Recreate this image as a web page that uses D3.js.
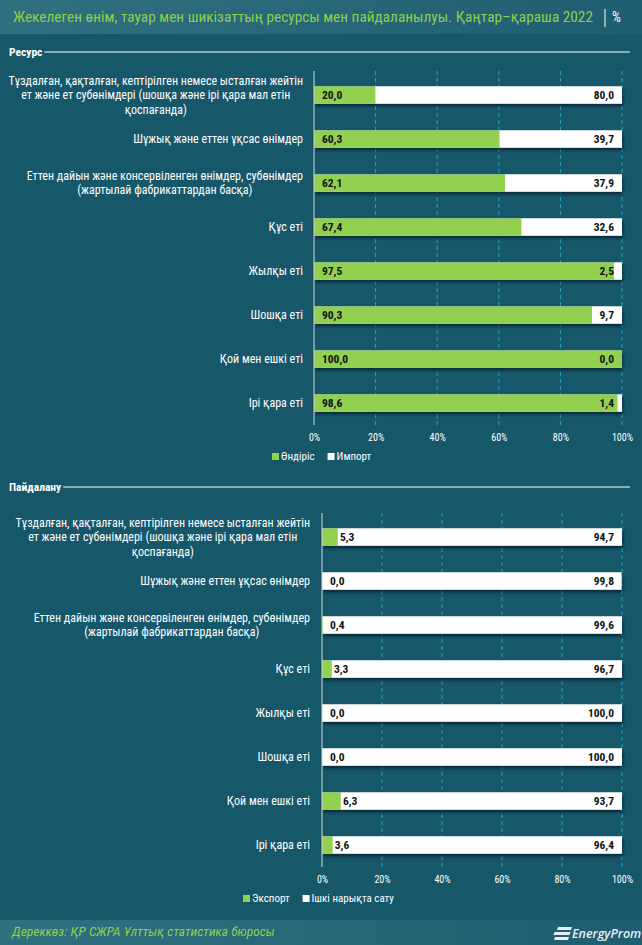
<!DOCTYPE html>
<html><head><meta charset="utf-8">
<script src="https://cdn.jsdelivr.net/npm/d3@7/dist/d3.min.js"></script>
<style>
html,body{margin:0;padding:0;background:#16576a;}
svg{display:block;}
</style></head>
<body>
<svg id="chart" width="642" height="945"></svg>
<script>
const categories = [
  "Тұздалған, қақталған, кептірілген немесе ысталған жейтін\nет және ет субөнімдері (шошқа және ірі қара мал етін\nқоспағанда)",
  "Шұжық және еттен ұқсас өнімдер",
  "Еттен дайын және консервіленген өнімдер, субөнімдер\n(жартылай фабрикаттардан басқа)",
  "Құс еті",
  "Жылқы еті",
  "Шошқа еті",
  "Қой мен ешкі еті",
  "Ірі қара еті"
];
const resourceProduction = [20.0, 60.3, 62.1, 67.4, 97.5, 90.3, 100.0, 98.6];
const resourceImport     = [80.0, 39.7, 37.9, 32.6, 2.5, 9.7, 0.0, 1.4];
const useExport          = [5.3, 0.0, 0.4, 3.3, 0.0, 0.0, 6.3, 3.6];
const useDomestic        = [94.7, 99.8, 99.6, 96.7, 100.0, 100.0, 93.7, 96.4];
const tickValues = [0, 20, 40, 60, 80, 100];
const tickLabels = ["0%", "20%", "40%", "60%", "80%", "100%"];
const titleText = "Жекелеген өнім, тауар мен шикізаттың ресурсы мен пайдаланылуы. Қаңтар–қараша 2022";
const sourceText = "Дереккөз: ҚР СЖРА Ұлттық статистика бюросы";

const GREEN = "#92d050";
const FONT = "'Liberation Sans Narrow','Roboto Condensed','Open Sans',sans-serif";
const svg = d3.select("#chart");

const defs = svg.append("defs");
const hg = defs.append("linearGradient").attr("id","hdr").attr("x1","0").attr("x2","1");
hg.append("stop").attr("offset","0").attr("stop-color","#30707f");
hg.append("stop").attr("offset","1").attr("stop-color","#1f5e70");
const fl = defs.append("filter").attr("id","shadow").attr("x","-5%").attr("y","-30%").attr("width","110%").attr("height","180%");
fl.append("feDropShadow").attr("dx",1).attr("dy",2.5).attr("stdDeviation",1.5).attr("flood-color","#061f27").attr("flood-opacity",0.8);

svg.append("rect").attr("width",642).attr("height",945).attr("fill","#16576a");
svg.append("rect").attr("width",642).attr("height",34).attr("fill","url(#hdr)");
svg.append("rect").attr("y",920).attr("width",642).attr("height",25).attr("fill","url(#hdr)");

// title
const tt = svg.append("text").attr("x",13).attr("y",22).attr("font-family",FONT).attr("font-size",14).attr("fill","#8fcf4c");
tt.append("tspan").text(titleText).attr("textLength",580).attr("lengthAdjust","spacingAndGlyphs");
svg.append("line").attr("x1",605).attr("x2",605).attr("y1",9).attr("y2",27).attr("stroke","#ffffff").attr("stroke-width",1);
svg.append("text").attr("x",612).attr("y",22).attr("font-family",FONT).attr("font-size",14).attr("fill","#ffffff").text("%");

// footer
svg.append("text").attr("x",12).attr("y",936).attr("font-family",FONT).attr("font-size",13.5).attr("font-style","italic").attr("fill","#8fcf4c").text(sourceText);
// logo
const lg = svg.append("g").attr("transform","translate(555,924)");
[0,5,10].forEach((dy,i)=>{
  lg.append("path").attr("d",`M${3-dy*0.3+ (i==1?-2:0)},${dy+3} L${17-dy*0.3},${dy+3} L${16-dy*0.3},${dy+6} L${2-dy*0.3+(i==1?-2:0)},${dy+6} Z`).attr("fill","#e8eef0");
});
lg.append("text").attr("x",17).attr("y",14).attr("font-family","'Open Sans',sans-serif").attr("font-size",12.5).attr("font-style","italic").attr("font-weight",600).attr("fill","#e8eef0").text("EnergyProm");

function sectionTitle(label, y){
  const t = svg.append("text").attr("x",9).attr("y",y+4).attr("font-family",FONT).attr("font-size",11.5).attr("font-weight","bold").attr("fill","#ffffff").text(label);
  const w = t.node().getComputedTextLength();
  svg.append("line").attr("x1",9+w+2).attr("x2",630).attr("y1",y).attr("y2",y).attr("stroke","#ffffff").attr("stroke-width",1);
}

function drawPanel(opts){
  const {x0, x1, yTop, yBot, a, b, labelRight, legendX, legendNames} = opts;
  const x = d3.scaleLinear().domain([0,100]).range([x0,x1]);
  const y = d3.scaleBand().domain(categories).range([yTop,yBot]);
  const bh = 17;
  const g = svg.append("g");
  // grid
  g.selectAll(".grid").data(tickValues.slice(1)).join("line")
    .attr("x1",d=>x(d)).attr("x2",d=>x(d)).attr("y1",yTop-2).attr("y2",yBot)
    .attr("stroke","#2f9fc0").attr("stroke-width",1).attr("stroke-dasharray","4,3");
  // bars
  const rows = categories.map((c,i)=>({c, a:a[i], b:b[i]}));
  const rg = g.selectAll(".row").data(rows).join("g").attr("transform",d=>`translate(0,${y(d.c)+(y.bandwidth()-bh)/2})`);
  rg.append("rect").attr("x",x(0)).attr("width",d=>x(d.a+d.b)-x(0)).attr("height",bh).attr("fill","#ffffff").attr("filter","url(#shadow)");
  rg.append("rect").attr("x",x(0)).attr("width",d=>x(d.a)-x(0)).attr("height",bh).attr("fill",GREEN);
  rg.append("rect").attr("x",d=>x(d.a)).attr("width",d=>x(d.a+d.b)-x(d.a)).attr("height",bh).attr("fill","#ffffff");
  const fmt = v => d3.format(".1f")(v).replace(".",",");
  rg.append("text").attr("x",d=> (x(d.a)-x(0) >= 30) ? x(0)+8 : Math.max(x(0)+8, x(d.a)+2)).attr("y",bh/2+4)
    .attr("font-family",FONT).attr("font-size",11.5).attr("font-weight","bold").attr("fill","#111").text(d=>fmt(d.a));
  rg.append("text").attr("x",x(100)-8).attr("y",bh/2+4).attr("text-anchor","end")
    .attr("font-family",FONT).attr("font-size",11.5).attr("font-weight","bold").attr("fill","#111").text(d=>fmt(d.b));
  // axis line
  g.append("line").attr("x1",x(0)).attr("x2",x(0)).attr("y1",yTop-2).attr("y2",yBot).attr("stroke","#d9d9d9").attr("stroke-width",1);
  // x tick labels via axis
  const ax = d3.axisBottom(x).tickValues(tickValues).tickFormat((d,i)=>tickLabels[i]).tickSize(0).tickPadding(0);
  const axg = g.append("g").attr("transform",`translate(0,${yBot+9})`).call(ax);
  axg.select(".domain").remove();
  axg.selectAll("text").attr("font-family",FONT).attr("font-size",10).attr("fill","#ffffff");
  // category labels
  categories.forEach(c=>{
    const lines = c.split("\n");
    const cy = y(c)+y.bandwidth()/2;
    const tg = g.append("g");
    const n = lines.length;
    const lh = 14.5;
    const texts = lines.map((ln,j)=> tg.append("text").attr("y",cy+(j-(n-1)/2)*lh+4)
      .attr("font-family",FONT).attr("font-size",12).attr("fill","#ffffff").attr("text-anchor","middle").text(ln));
    const maxW = d3.max(texts, t=>t.node().getComputedTextLength());
    texts.forEach(t=>t.attr("x",labelRight-maxW/2));
  });
  // legend
  const ly = yBot+35;
  const l = g.append("g");
  let lx = legendX;
  [[GREEN,legendNames[0]],["#ffffff",legendNames[1]]].forEach(([col,name])=>{
    l.append("rect").attr("x",lx).attr("y",ly-7).attr("width",7).attr("height",7).attr("fill",col);
    const t = l.append("text").attr("x",lx+9).attr("y",ly).attr("font-family",FONT).attr("font-size",11).attr("fill","#ffffff").text(name);
    lx += 9 + t.node().getComputedTextLength() + 13;
  });
}

sectionTitle("Ресурс", 52);
drawPanel({x0:314, x1:622, yTop:73, yBot:425, a:resourceProduction, b:resourceImport, labelRight:303, legendX:272, legendNames:["Өндіріс","Импорт"]});
sectionTitle("Пайдалану", 487);
drawPanel({x0:322, x1:622, yTop:515, yBot:867, a:useExport, b:useDomestic, labelRight:310, legendX:243, legendNames:["Экспорт","Ішкі нарықта сату"]});
</script>
</body></html>
